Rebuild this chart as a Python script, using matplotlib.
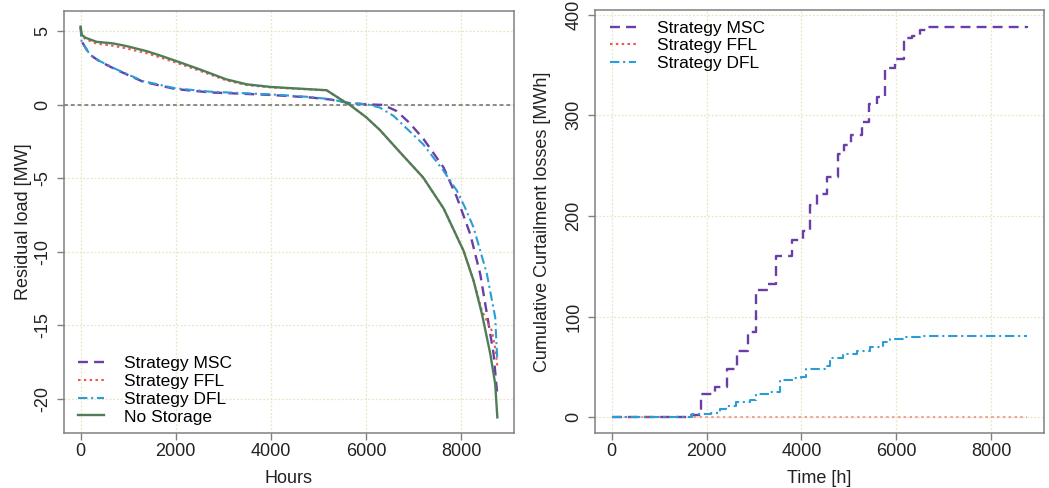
import numpy as np
import matplotlib
matplotlib.use("Agg")
import matplotlib.pyplot as plt

plt.rcParams['font.family'] = ['Liberation Sans', 'DejaVu Sans']
plt.rcParams['font.size'] = 13
plt.rcParams['axes.unicode_minus'] = False

# ---- residual load duration curves (left) ----
h_nost = [0, 20, 100, 330, 680, 960, 1380, 1660, 2010, 2500, 3060, 3490, 4000,
          4470, 5170, 5520, 5660, 6000, 6290, 6720, 7200, 7630, 8050, 8260,
          8435, 8610, 8715, 8760]
v_nost = [5.3, 4.75, 4.55, 4.27, 4.16, 3.98, 3.64, 3.35, 2.96, 2.4, 1.72, 1.38,
          1.2, 1.11, 0.98, 0.25, -0.02, -0.85, -1.72, -3.26, -4.95, -7.05,
          -9.93, -11.96, -14.2, -16.9, -18.97, -21.25]

h_ffl = [0, 20, 100, 330, 680, 960, 1380, 1660, 2010, 2500, 3060, 3490, 4000,
         4470, 5170, 5520, 5660, 6000, 6290, 6720, 7200, 7630, 8050, 8260,
         8435, 8650, 8730, 8760]
v_ffl = [5.3, 4.7, 4.45, 4.15, 4.0, 3.82, 3.5, 3.22, 2.85, 2.3, 1.65, 1.33,
         1.17, 1.09, 0.97, 0.25, -0.02, -0.85, -1.72, -3.26, -4.95, -7.05,
         -9.93, -11.96, -14.0, -15.4, -16.8, -17.8]

h_msc = [0, 20, 190, 400, 750, 1310, 1990, 2720, 3980, 4820, 5240, 5660, 6020,
         6360, 6640, 6900, 7200, 7630, 7910, 8190, 8400, 8540, 8680, 8750, 8760]
v_msc = [5.3, 4.3, 3.4, 2.94, 2.37, 1.56, 1.06, 0.83, 0.66, 0.49, 0.35, 0.1,
         0.02, -0.02, -0.43, -1.2, -2.3, -4.27, -6.3, -8.8, -11.5, -14.2,
         -16.9, -19.4, -19.6]

h_dfl = [0, 20, 190, 400, 750, 1310, 1990, 2720, 3980, 4820, 5240, 5660, 6020,
         6290, 6580, 7200, 7630, 7910, 8080, 8260, 8540, 8715, 8760]
v_dfl = [5.3, 4.3, 3.42, 2.96, 2.4, 1.6, 1.11, 0.88, 0.7, 0.52, 0.37, 0.1,
         0.02, -0.2, -0.77, -2.69, -4.5, -5.85, -6.99, -8.34, -11.5, -14.45,
         -17.4]

# ---- cumulative curtailment (right), step series ----
t_msc = [0, 1650, 1880, 2180, 2440, 2650, 2870, 3040, 3300, 3470, 3800, 4030,
         4180, 4330, 4530, 4780, 4900, 5050, 5280, 5430, 5600, 5760, 5980,
         6150, 6330, 6500, 6650, 8760]
c_msc = [0, 2, 23, 30, 48, 66, 85, 126, 132, 160, 176, 185, 211, 222, 239,
         262, 270, 280, 293, 311, 318, 347, 356, 377, 379, 385, 388, 389]

t_dfl = [0, 1700, 2100, 2280, 2420, 2630, 2910, 3050, 3330, 3540, 3820, 4000,
         4100, 4490, 4600, 4870, 5160, 5440, 5720, 5860, 6210, 6500, 8760]
c_dfl = [0, 3, 4, 8, 11, 15, 17, 23, 25.5, 37, 39, 40.5, 48.5, 50.5, 58.5,
         62.5, 66, 70, 75, 77.5, 79.5, 80.5, 80.5]

t_ffl = [0, 8760]
c_ffl = [0, 0]

names = ["Strategy MSC", "Strategy FFL", "Strategy DFL", "No Storage"]
x_ticks = [0, 2000, 4000, 6000, 8000]
left_yticks = [-20, -15, -10, -5, 0, 5]
right_yticks = [0, 100, 200, 300, 400]

col_msc = "#6a3fa5"
col_ffl = "#f2574c"
col_dfl = "#2b9dd6"
col_nost = "#4f7d58"
grid_col = "#e9e4c6"
frame_col = "#808080"
text_col = "#222222"

ls_msc = dict(color=col_msc, lw=1.7, dashes=(4.2, 2.6))
ls_ffl = dict(color=col_ffl, lw=1.5, dashes=(1.2, 1.6))
ls_dfl = dict(color=col_dfl, lw=1.5, dashes=(4.5, 1.8, 1.0, 1.8))
ls_nost = dict(color=col_nost, lw=1.7)


def rlim(lo, hi):
    d = 0.04 * (hi - lo)
    return lo - d, hi + d


def style(ax, yticks):
    ax.set_xticks(x_ticks)
    ax.set_yticks(yticks)
    ax.grid(True, color=grid_col, lw=0.9, linestyle=(0, (1.5, 1.5)))
    ax.set_axisbelow(True)
    for s in ax.spines.values():
        s.set_color(frame_col)
        s.set_linewidth(1.1)
    ax.tick_params(direction="out", length=5, width=1.0, color=frame_col,
                   labelsize=13, labelcolor=text_col)
    ax.tick_params(axis="x", pad=2)
    ax.tick_params(axis="y", pad=4)
    for lab in ax.get_yticklabels():
        lab.set_rotation(90)
        lab.set_va("center")


fig = plt.figure(figsize=(10.49, 4.88), dpi=100)

ax1 = fig.add_axes([64 / 1049, 55 / 488, 450 / 1049, 422 / 488])
ax1.axhline(0, color="#8a8a8a", lw=1.4, dashes=(2, 1.5), zorder=1)
ax1.plot(h_msc, v_msc, label=names[0], **ls_msc)
ax1.plot(h_ffl, v_ffl, label=names[1], **ls_ffl)
ax1.plot(h_dfl, v_dfl, label=names[2], **ls_dfl)
ax1.plot(h_nost, v_nost, label=names[3], **ls_nost)
ax1.set_xlim(*rlim(0, 8760))
ax1.set_ylim(*rlim(min(v_nost), max(v_nost)))
style(ax1, left_yticks)
ax1.set_xlabel("Hours", fontsize=13, color=text_col)
ax1.set_ylabel("Residual load [MW]", fontsize=13, color=text_col)
ax1.xaxis.set_label_coords(0.5, -0.088)
ax1.yaxis.set_label_coords(-0.072, 0.5)
ax1.legend(loc="lower left", bbox_to_anchor=(0.03, 0.02), frameon=False,
           fontsize=12.5, handlelength=1.5, handletextpad=1.2,
           labelspacing=0.15, borderpad=0, borderaxespad=0)

ax2 = fig.add_axes([595 / 1049, 55 / 488, 449 / 1049, 423 / 488])
ax2.plot(t_msc, c_msc, drawstyle="steps-post", label=names[0], **ls_msc)
ax2.plot(t_ffl, c_ffl, label=names[1], alpha=0.55, **ls_ffl)
ax2.plot(t_dfl, c_dfl, drawstyle="steps-post", label=names[2], **ls_dfl)
ax2.set_xlim(*rlim(0, 8760))
ax2.set_ylim(*rlim(0, max(c_msc)))
style(ax2, right_yticks)
ax2.set_xlabel("Time [h]", fontsize=13, color=text_col)
ax2.set_ylabel("Cumulative Curtailment losses [MWh]", fontsize=13,
               color=text_col)
ax2.xaxis.set_label_coords(0.5, -0.088)
ax2.yaxis.set_label_coords(-0.097, 0.5)
leg = ax2.legend(loc="upper left", bbox_to_anchor=(0.033, 0.975),
                 frameon=False, fontsize=12.5, handlelength=1.5,
                 handletextpad=1.2, labelspacing=0.15, borderpad=0,
                 borderaxespad=0)
for hl in leg.get_lines():
    hl.set_alpha(1.0)

fig.savefig("out.png", dpi=100)
